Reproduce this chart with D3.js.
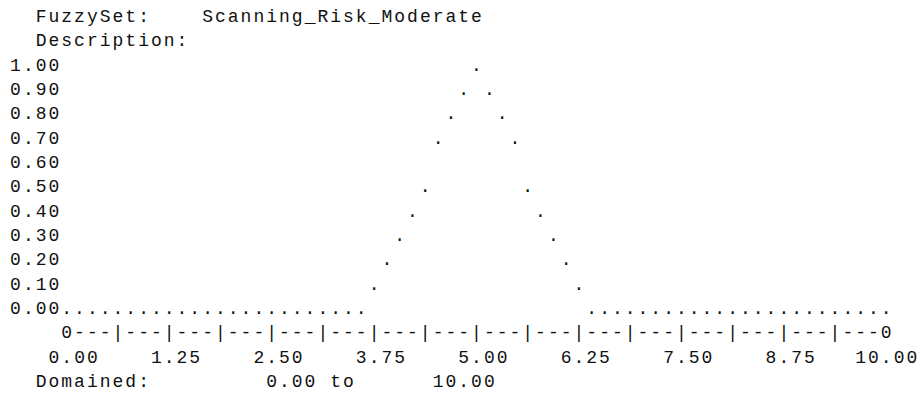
<!DOCTYPE html>
<html>
<head>
<meta charset="utf-8">
<script src="https://cdn.jsdelivr.net/npm/d3@7"></script>
<style>
  html, body { margin: 0; padding: 0; background: #fff; }
  svg { display: block; }
  text { font-family: "Liberation Mono", "Courier New", "DejaVu Sans Mono", monospace; fill: #111; }
</style>
</head>
<body>
<div id="chart"></div>
<script>
// ---------------- data ----------------
const setLabel = "FuzzySet:";
const setName = "Scanning_Risk_Moderate";
const descLabel = "Description:";
const domainLabel = "Domained:";
const domainMin = 0.00;
const domainMax = 10.00;

const yTickValues = [1.0, 0.9, 0.8, 0.7, 0.6, 0.5, 0.4, 0.3, 0.2, 0.1, 0.0];
const yTickLabels = ["1.00", "0.90", "0.80", "0.70", "0.60", "0.50", "0.40", "0.30", "0.20", "0.10", "0.00"];

const xTickValues = [0, 1.25, 2.5, 3.75, 5, 6.25, 7.5, 8.75, 10];
const xTickLabels = ["0.00", "1.25", "2.50", "3.75", "5.00", "6.25", "7.50", "8.75", "10.00"];

// membership degree at each of the 65 sample columns across the domain
const membership = [
  0, 0, 0, 0, 0, 0, 0, 0, 0, 0, 0, 0,
  0, 0, 0, 0, 0, 0, 0, 0, 0, 0, 0, 0,
  0.1, 0.2, 0.3, 0.4, 0.5, 0.7, 0.8, 0.9, 1.0, 0.9, 0.8, 0.7, 0.5, 0.4, 0.3, 0.2, 0.1,
  0, 0, 0, 0, 0, 0, 0, 0, 0, 0, 0, 0,
  0, 0, 0, 0, 0, 0, 0, 0, 0, 0, 0, 0
];
const minorTickEvery = 4; // sample columns between '|' marks

// ---------------- layout ----------------
const W = 922, H = 394;
const cw = 12.805;          // character cell width
const x0 = 9.1;             // left edge of column 0
const lineH = 24.33;        // line height
const base0 = 21.9;         // baseline of first line
const fontSize = 18;
const adv = fontSize * 0.6;
const ls = cw - adv;        // letter spacing to match cell width

const colCenter = c => x0 + (c + 0.5) * cw;
const baseline = r => base0 + r * lineH;

const svg = d3.select("#chart").append("svg")
  .attr("width", W).attr("height", H)
  .style("background", "#fff");

const xScale = d3.scaleLinear().domain([domainMin, domainMax]).range([colCenter(4), colCenter(68)]);
const yScale = d3.scaleLinear().domain([0, 1]).range([baseline(12), baseline(2)]);

function textAtCol(col, y, str) {
  return svg.append("text")
    .attr("x", x0 + col * cw + ls / 2)
    .attr("y", y)
    .attr("font-size", fontSize)
    .attr("letter-spacing", ls)
    .style("white-space", "pre")
    .text(str);
}

// header
textAtCol(2, baseline(0), setLabel);
textAtCol(15, baseline(0), setName);
textAtCol(2, baseline(1), descLabel);

// y tick labels
svg.append("g").selectAll("text")
  .data(yTickValues)
  .join("text")
  .attr("x", x0 + ls / 2)
  .attr("y", d => yScale(d))
  .attr("font-size", fontSize)
  .attr("letter-spacing", ls)
  .text((d, i) => yTickLabels[i]);

// membership dots
const n = membership.length;
const sampleX = i => domainMin + i * (domainMax - domainMin) / (n - 1);
svg.append("g").selectAll("text")
  .data(membership)
  .join("text")
  .attr("x", (d, i) => xScale(sampleX(i)))
  .attr("y", d => yScale(d))
  .attr("text-anchor", "middle")
  .attr("font-size", fontSize)
  .text(".");

// axis line made of characters
svg.append("g").selectAll("text")
  .data(d3.range(n))
  .join("text")
  .attr("x", i => xScale(sampleX(i)))
  .attr("y", baseline(13))
  .attr("text-anchor", "middle")
  .attr("font-size", fontSize)
  .text(i => (i === 0 || i === n - 1) ? "0" : (i % minorTickEvery === 0 ? "|" : "-"));

// x tick labels: decimal point aligned with the tick column
svg.append("g").selectAll("text")
  .data(xTickValues)
  .join("text")
  .attr("x", (d, i) => {
    const intLen = xTickLabels[i].indexOf(".");
    return xScale(d) - (intLen + 0.5) * cw + ls / 2;
  })
  .attr("y", baseline(14))
  .attr("font-size", fontSize)
  .attr("letter-spacing", ls)
  .text((d, i) => xTickLabels[i]);

// domain footer
const fmt = d3.format(".2f");
textAtCol(2, baseline(15), domainLabel);
textAtCol(20, baseline(15), fmt(domainMin) + " to");
textAtCol(33, baseline(15), fmt(domainMax));
</script>
</body>
</html>
